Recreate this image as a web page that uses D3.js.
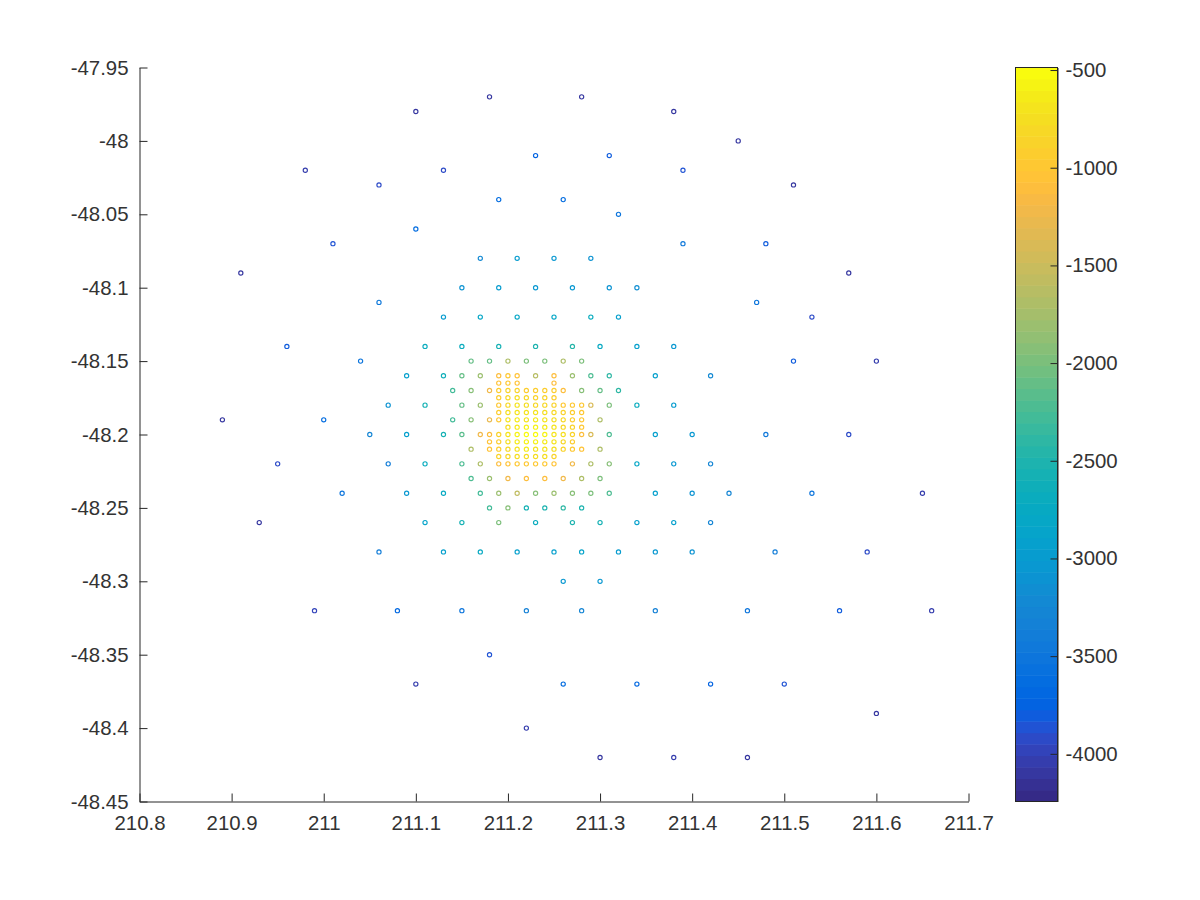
<!DOCTYPE html>
<html>
<head>
<meta charset="utf-8">
<script src="https://cdn.jsdelivr.net/npm/d3@7"></script>
<style>
body { margin: 0; background: #fff; }
svg { display: block; }
text { font-family: "Liberation Sans", Arial, sans-serif; }
</style>
</head>
<body>
<svg id="chart" width="1200" height="900"></svg>
<script>
// tick labels
var xTicks = [210.8, 210.9, 211, 211.1, 211.2, 211.3, 211.4, 211.5, 211.6, 211.7];
var xTickLabels = ["210.8", "210.9", "211", "211.1", "211.2", "211.3", "211.4", "211.5", "211.6", "211.7"];
var yTicks = [-47.95, -48, -48.05, -48.1, -48.15, -48.2, -48.25, -48.3, -48.35, -48.4, -48.45];
var yTickLabels = ["-47.95", "-48", "-48.05", "-48.1", "-48.15", "-48.2", "-48.25", "-48.3", "-48.35", "-48.4", "-48.45"];
var cbTicks = [-500, -1000, -1500, -2000, -2500, -3000, -3500, -4000];
var cbTickLabels = ["-500", "-1000", "-1500", "-2000", "-2500", "-3000", "-3500", "-4000"];

var xDomain = [210.8, 211.7];
var yDomain = [-48.45, -47.95];
var cDomain = [-4244, -487];

// soundings, one row per latitude
var lats = [
  -47.97, -47.98, -48.00, -48.01, -48.02, -48.03, -48.04, -48.05, -48.06, -48.07,
  -48.08, -48.09, -48.10, -48.11, -48.12, -48.14, -48.15, -48.16, -48.165, -48.17,
  -48.175, -48.18, -48.185, -48.19, -48.195, -48.20, -48.205, -48.21, -48.215, -48.22,
  -48.23, -48.24, -48.25, -48.26, -48.28, -48.30, -48.32, -48.35, -48.37, -48.39,
  -48.40, -48.42
];
var lons = [
  [211.18, 211.28],
  [211.10, 211.38],
  [211.45],
  [211.23, 211.31],
  [210.98, 211.13, 211.39],
  [211.06, 211.51],
  [211.19, 211.26],
  [211.32],
  [211.10],
  [211.01, 211.39, 211.48],
  [211.17, 211.21, 211.25, 211.29],
  [210.91, 211.57],
  [211.15, 211.19, 211.23, 211.27, 211.31, 211.34],
  [211.06, 211.47],
  [211.13, 211.17, 211.21, 211.25, 211.29, 211.32, 211.53],
  [210.96, 211.11, 211.15, 211.19, 211.23, 211.27, 211.30, 211.34, 211.38],
  [211.04, 211.16, 211.18, 211.20, 211.22, 211.24, 211.26, 211.28, 211.51, 211.60],
  [211.09, 211.13, 211.15, 211.17, 211.19, 211.20, 211.21, 211.23, 211.25, 211.27, 211.29, 211.31, 211.36, 211.42],
  [211.19, 211.20, 211.21, 211.25],
  [211.14, 211.16, 211.18, 211.19, 211.20, 211.21, 211.22, 211.23, 211.24, 211.25, 211.26, 211.28, 211.30, 211.32],
  [211.19, 211.20, 211.21, 211.22, 211.23, 211.24, 211.25],
  [211.07, 211.11, 211.15, 211.17, 211.19, 211.20, 211.21, 211.22, 211.23, 211.24, 211.25, 211.26, 211.27, 211.28, 211.29, 211.31, 211.34, 211.38],
  [211.19, 211.20, 211.21, 211.22, 211.23, 211.24, 211.25, 211.26, 211.27, 211.28],
  [210.89, 211.00, 211.14, 211.16, 211.18, 211.19, 211.20, 211.21, 211.22, 211.23, 211.24, 211.25, 211.26, 211.27, 211.28, 211.30],
  [211.20, 211.21, 211.22, 211.23, 211.24, 211.25, 211.26, 211.27, 211.28],
  [211.05, 211.09, 211.13, 211.15, 211.17, 211.18, 211.19, 211.20, 211.21, 211.22, 211.23, 211.24, 211.25, 211.26, 211.27, 211.28, 211.29, 211.31, 211.36, 211.40, 211.48, 211.57],
  [211.18, 211.19, 211.20, 211.21, 211.22, 211.23, 211.24, 211.25, 211.26, 211.27],
  [211.16, 211.18, 211.19, 211.20, 211.21, 211.22, 211.23, 211.24, 211.25, 211.26, 211.27, 211.28, 211.30],
  [211.19, 211.20, 211.21, 211.22, 211.23, 211.24, 211.25],
  [210.95, 211.07, 211.11, 211.15, 211.17, 211.19, 211.20, 211.21, 211.22, 211.23, 211.24, 211.25, 211.27, 211.29, 211.31, 211.34, 211.38, 211.42],
  [211.16, 211.18, 211.20, 211.22, 211.24, 211.26, 211.28, 211.30],
  [211.02, 211.09, 211.13, 211.17, 211.19, 211.21, 211.23, 211.25, 211.27, 211.29, 211.31, 211.36, 211.40, 211.44, 211.53, 211.65],
  [211.18, 211.20, 211.22, 211.24, 211.26, 211.28],
  [210.93, 211.11, 211.15, 211.19, 211.23, 211.27, 211.30, 211.34, 211.38, 211.42],
  [211.06, 211.13, 211.17, 211.21, 211.25, 211.28, 211.32, 211.36, 211.40, 211.49, 211.59],
  [211.26, 211.30],
  [210.99, 211.08, 211.15, 211.22, 211.28, 211.36, 211.46, 211.56, 211.66],
  [211.18],
  [211.10, 211.26, 211.34, 211.42, 211.50],
  [211.60],
  [211.22],
  [211.30, 211.38, 211.46]
];
var depths = [
  [-4120, -4100],
  [-4100, -4100],
  [-4100],
  [-3750, -3800],
  [-4050, -3900, -3850],
  [-3950, -4100],
  [-3650, -3600],
  [-3500],
  [-3600],
  [-3850, -3450, -3800],
  [-3200, -3000, -3050, -3100],
  [-4100, -4100],
  [-3100, -3000, -3050, -3050, -3100, -3150],
  [-3450, -3500],
  [-3000, -2800, -2800, -2800, -2700, -2900, -3900],
  [-3800, -2700, -2700, -2600, -2500, -2450, -2750, -2950, -3050],
  [-3500, -2100, -2100, -1700, -2000, -2000, -1700, -2000, -3800, -4050],
  [-2900, -2650, -2100, -1800, -1100, -1000, -1050, -1650, -1100, -1800, -2200, -2400, -2900, -3200],
  [-1050, -1000, -1050, -1100],
  [-2300, -1900, -1200, -950, -880, -880, -950, -950, -950, -950, -1100, -1900, -2100, -2400],
  [-950, -820, -780, -820, -880, -880, -950],
  [-3100, -2600, -2100, -1800, -1000, -820, -720, -780, -820, -820, -880, -1000, -1000, -1000, -1400, -2000, -2700, -3000],
  [-950, -780, -680, -720, -720, -780, -820, -880, -950, -1000],
  [-4100, -3600, -2300, -1900, -1300, -1000, -720, -650, -680, -650, -720, -780, -820, -950, -1000, -1700],
  [-780, -620, -600, -600, -650, -720, -820, -880, -1000],
  [-3300, -2900, -2600, -2150, -1200, -1100, -880, -720, -600, -530, -530, -600, -680, -780, -880, -1100, -1400, -2200, -2900, -3050, -3450, -3950],
  [-1050, -950, -780, -650, -570, -570, -650, -720, -820, -950],
  [-1700, -1050, -950, -820, -720, -650, -680, -720, -780, -880, -1000, -1050, -1700],
  [-880, -820, -780, -780, -780, -780, -880],
  [-3900, -3400, -2700, -2200, -1700, -1100, -1050, -1000, -1000, -1000, -1000, -1050, -1250, -1700, -1900, -2800, -3050, -3300],
  [-2200, -1800, -1200, -1100, -1100, -1200, -1700, -2000],
  [-3500, -3050, -2750, -2250, -1800, -1600, -1900, -1800, -1900, -2000, -2200, -2950, -3100, -3300, -3500, -4050],
  [-2300, -1900, -2600, -2500, -2400, -2500],
  [-4100, -2850, -2600, -2000, -2700, -2500, -2600, -2900, -2950, -3300],
  [-3400, -2950, -2750, -2900, -2950, -2850, -3000, -3050, -3100, -3400, -3900],
  [-3050, -3050],
  [-4000, -3700, -3500, -3350, -3250, -3350, -3500, -3800, -4050],
  [-3850],
  [-4050, -3650, -3700, -3750, -3850],
  [-4100],
  [-4050],
  [-4100, -4050, -4100]
];

// parula, 64 levels
var parula = [
  "#352a87", "#363093", "#3637a0", "#353dad", "#3243ba", "#2c4ac7", "#2053d4", "#0f5cdd",
  "#0363e1", "#0268e1", "#046de0", "#0871de", "#0d75dc", "#1079da", "#127dd8", "#1481d6",
  "#1485d4", "#1389d3", "#108ed2", "#0c93d2", "#0998d1", "#079ccf", "#06a0cd", "#06a4ca",
  "#06a7c6", "#07a9c2", "#0aacbe", "#0faeb9", "#15b1b4", "#1db3af", "#25b5a9", "#2eb7a4",
  "#38b99e", "#42bb98", "#4dbc92", "#59bd8c", "#65be86", "#71bf80", "#7cbf7b", "#87bf77",
  "#92bf73", "#9bbf6f", "#a5be6b", "#aebe67", "#b7bd64", "#c0bc60", "#c8bc5d", "#d1bb59",
  "#d9ba56", "#e1b952", "#e9b94e", "#f1b94a", "#f8ba44", "#fdbe3d", "#ffc337", "#fec832",
  "#fccd2e", "#f9d32a", "#f7d826", "#f5de21", "#f5e41d", "#f5eb18", "#f6f313", "#f9fb0e"
];

var svg = d3.select("#chart");

var margin = { left: 139.5, right: 968.5, top: 67.5, bottom: 801.5 };
var inkColor = "#262626";
var textColor = "#333333";
var tickFont = "20.4px";

var xScale = d3.scaleLinear().domain(xDomain).range([margin.left, margin.right]);
var yScale = d3.scaleLinear().domain(yDomain).range([margin.bottom, margin.top]);
var colorScale = d3.scaleQuantize().domain(cDomain).range(parula);

var points = [];
lats.forEach(function (lat, i) {
  lons[i].forEach(function (lon, j) {
    points.push({ lon: lon, lat: lat, depth: depths[i][j] });
  });
});

svg.append("g")
  .selectAll("circle")
  .data(points)
  .enter()
  .append("circle")
  .attr("cx", function (d) { return xScale(d.lon); })
  .attr("cy", function (d) { return yScale(d.lat); })
  .attr("r", 2.1)
  .attr("fill", "none")
  .attr("stroke", function (d) { return colorScale(d.depth); })
  .attr("stroke-width", 1.15);

// axes: left and bottom only, ticks pointing in
var xAxis = svg.append("g")
  .attr("transform", "translate(0," + margin.bottom + ")")
  .call(d3.axisBottom(xScale)
    .tickValues(xTicks)
    .tickFormat(function (d, i) { return xTickLabels[i]; })
    .tickSizeInner(-8)
    .tickSizeOuter(0)
    .tickPadding(14));

var yAxis = svg.append("g")
  .attr("transform", "translate(" + margin.left + ",0)")
  .call(d3.axisLeft(yScale)
    .tickValues(yTicks)
    .tickFormat(function (d, i) { return yTickLabels[i]; })
    .tickSizeInner(-8)
    .tickSizeOuter(0)
    .tickPadding(11));

// colorbar
var cbLeft = 1015.5, cbRight = 1057.5;
var cbScale = d3.scaleLinear().domain(cDomain).range([margin.bottom, margin.top]);

svg.append("g")
  .selectAll("rect")
  .data(parula)
  .enter()
  .append("rect")
  .attr("x", cbLeft)
  .attr("width", cbRight - cbLeft)
  .attr("y", function (d) { return cbScale(colorScale.invertExtent(d)[1]); })
  .attr("height", function (d) {
    var e = colorScale.invertExtent(d);
    return cbScale(e[0]) - cbScale(e[1]) + 0.5;
  })
  .attr("fill", function (d) { return d; });

var cbAxis = svg.append("g")
  .attr("transform", "translate(" + cbRight + ",0)")
  .call(d3.axisRight(cbScale)
    .tickValues(cbTicks)
    .tickFormat(function (d, i) { return cbTickLabels[i]; })
    .tickSizeInner(-7)
    .tickSizeOuter(0)
    .tickPadding(8));

svg.append("rect")
  .attr("x", cbLeft)
  .attr("y", margin.top)
  .attr("width", cbRight - cbLeft)
  .attr("height", margin.bottom - margin.top)
  .attr("fill", "none")
  .attr("stroke", inkColor)
  .attr("stroke-width", 1);

[xAxis, yAxis, cbAxis].forEach(function (axis) {
  axis.attr("font-size", tickFont).attr("font-family", null);
  axis.selectAll("path, line").attr("stroke", inkColor).attr("stroke-width", 1);
  axis.selectAll("text").attr("fill", textColor);
});
</script>
</body>
</html>
